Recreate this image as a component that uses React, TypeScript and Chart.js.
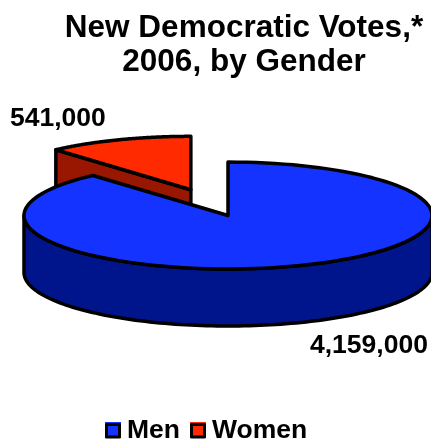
import { useEffect, useRef } from "react";
import { Chart, registerables } from "chart.js";

Chart.register(...registerables);

const titleLines = ["New Democratic Votes,*", "2006, by Gender"];
const categories = ["Men", "Women"];
const votes = [4159000, 541000];
const topColors = ["#1433ff", "#ff2a00"];
const sideColors = ["#00158c", "#991600"];

const FONT_FAMILY = "'Liberation Sans', Arial, sans-serif";
const TILT = 0.262;
const DEPTH = 57;
const OUTLINE = 3.5;
const PULL_OUT = [0, 105];

type Pt = [number, number];

// The flat pie is squashed vertically about its centre to read as a tilted disc.
function project(arc: any, centreY: number, angle: number, radius: number): Pt {
  return [
    arc.x + Math.cos(angle) * radius,
    centreY + (arc.y - centreY + Math.sin(angle) * radius) * TILT,
  ];
}

function tracePolygon(ctx: CanvasRenderingContext2D, pts: Pt[]) {
  ctx.beginPath();
  pts.forEach(([x, y], i) => (i ? ctx.lineTo(x, y) : ctx.moveTo(x, y)));
  ctx.closePath();
}

function paintFace(ctx: CanvasRenderingContext2D, pts: Pt[], fill?: string) {
  tracePolygon(ctx, pts);
  if (fill) {
    ctx.fillStyle = fill;
    ctx.fill();
  }
  ctx.strokeStyle = "#000";
  ctx.lineWidth = OUTLINE;
  ctx.lineJoin = "round";
  ctx.stroke();
}

function rimPoints(arc: any, centreY: number, from: number, to: number): Pt[] {
  const pts: Pt[] = [];
  const steps = 120;
  for (let i = 0; i <= steps; i++) {
    pts.push(project(arc, centreY, from + ((to - from) * i) / steps, arc.outerRadius));
  }
  return pts;
}

const centreYOf = (chart: any) => (chart.chartArea.top + chart.chartArea.bottom) / 2;

const tiltedPie = {
  id: "tiltedPie",
  afterLayout(chart: any) {
    // The title sits a little right of the disc centre.
    chart.titleBlock.left += 32;
  },
  afterDatasetsUpdate(chart: any) {
    // Slide each slice outward along its bisector.
    (chart.getDatasetMeta(0).data as any[]).forEach((arc, i) => {
      const mid = (arc.startAngle + arc.endAngle) / 2;
      arc.x += Math.cos(mid) * PULL_OUT[i];
      arc.y += Math.sin(mid) * PULL_OUT[i];
    });
  },
  beforeDatasetsDraw(chart: any) {
    const ctx: CanvasRenderingContext2D = chart.ctx;
    const cy = centreYOf(chart);
    const [men, women] = chart.getDatasetMeta(0).data as any[];

    // Cut face of the pulled-out slice, seen behind the main body.
    const apex = project(women, cy, 0, 0);
    const rim = project(women, cy, women.startAngle, women.outerRadius);
    paintFace(
      ctx,
      [apex, rim, [rim[0], rim[1] + DEPTH], [apex[0], apex[1] + DEPTH]],
      sideColors[1],
    );

    // Front wall of the main body: only the part of the rim facing the viewer.
    const upper = rimPoints(men, cy, Math.max(men.startAngle, 0), Math.min(men.endAngle, Math.PI));
    const lower = upper.map(([x, y]) => [x, y + DEPTH] as Pt).reverse();
    paintFace(ctx, [...upper, ...lower], sideColors[0]);

    ctx.save();
    ctx.translate(0, cy);
    ctx.scale(1, TILT);
    ctx.translate(0, -cy);
  },
  afterDatasetsDraw(chart: any) {
    const ctx: CanvasRenderingContext2D = chart.ctx;
    ctx.restore();
    const cy = centreYOf(chart);
    for (const arc of chart.getDatasetMeta(0).data as any[]) {
      paintFace(ctx, [
        project(arc, cy, 0, 0),
        ...rimPoints(arc, cy, arc.startAngle, arc.endAngle),
      ]);
    }
  },
  afterDraw(chart: any) {
    const ctx: CanvasRenderingContext2D = chart.ctx;
    ctx.save();
    ctx.fillStyle = "#000";
    ctx.textBaseline = "alphabetic";

    // Value labels
    ctx.font = `bold 26.5px ${FONT_FAMILY}`;
    ctx.textAlign = "left";
    ctx.fillText(votes[1].toLocaleString("en-US"), 10, 126);
    ctx.fillText(votes[0].toLocaleString("en-US"), 310, 353);

    // Legend
    const swatchX = [105, 190];
    categories.forEach((name, i) => {
      ctx.fillStyle = topColors[i];
      ctx.fillRect(swatchX[i], 422, 16, 16);
      ctx.strokeStyle = "#000";
      ctx.lineWidth = 3;
      ctx.strokeRect(swatchX[i] + 1.5, 424.5, 13, 12.5);
      ctx.fillStyle = "#000";
      ctx.fillText(name, swatchX[i] + 22, 438);
    });
    ctx.restore();
  },
};

export default function App() {
  const ref = useRef<HTMLCanvasElement>(null);

  useEffect(() => {
    if (!ref.current) return;
    const chart = new Chart(ref.current, {
      type: "pie",
      data: {
        labels: categories,
        datasets: [
          {
            data: votes,
            backgroundColor: topColors,
            borderWidth: 0,
            radius: 204,
            clip: false,
          } as any,
        ],
      },
      options: {
        animation: false,
        responsive: false,
        layout: { padding: { left: 25, right: 0, top: 0, bottom: 90 } },
        plugins: {
          legend: { display: false },
          tooltip: { enabled: false },
          title: {
            display: true,
            text: titleLines,
            color: "#000",
            font: { family: FONT_FAMILY, size: 31.5, weight: "bold", lineHeight: 1.08 },
            padding: { top: 11, bottom: 0 },
          },
        },
      },
      plugins: [tiltedPie],
    });
    return () => chart.destroy();
  }, []);

  return (
    <canvas
      ref={ref}
      width={431}
      height={442}
      style={{ position: "absolute", left: 0, top: 0, width: 431, height: 442, display: "block" }}
    />
  );
}
